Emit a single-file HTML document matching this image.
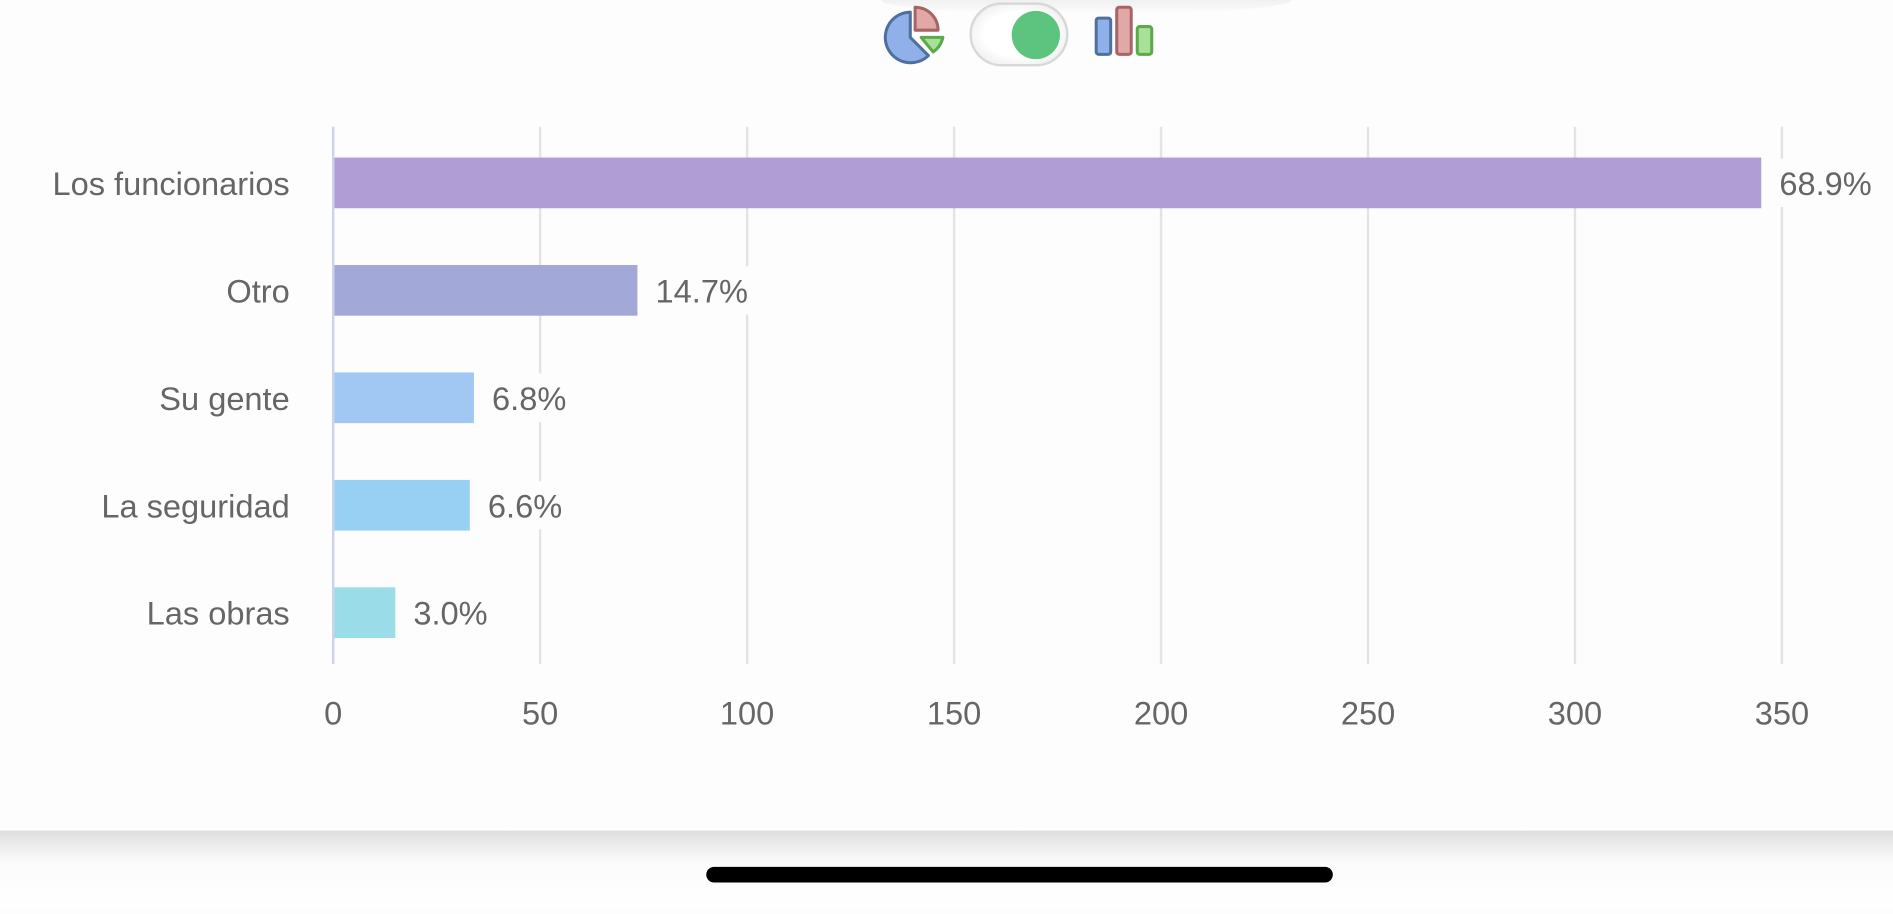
<!DOCTYPE html>
<html><head><meta charset="utf-8">
<style>
html,body{margin:0;padding:0;background:#fdfdfd;overflow:hidden;}
#wrap{position:absolute;left:0;top:0;width:1568px;height:752px;transform:scale(1.20727);transform-origin:0 0;background:#fdfdfd;font-family:"Liberation Sans",sans-serif;}
svg text{font-family:"Liberation Sans",sans-serif;}
</style></head>
<body>
<div id="wrap">
<svg id="svg" width="1568" height="752" xmlns="http://www.w3.org/2000/svg">
  <defs>
    <linearGradient id="topsh" x1="0" y1="0" x2="0" y2="1">
      <stop offset="0" stop-color="#000" stop-opacity="0.10"/>
      <stop offset="1" stop-color="#000" stop-opacity="0"/>
    </linearGradient>
    <linearGradient id="botsh" x1="0" y1="0" x2="0" y2="1">
      <stop offset="0" stop-color="#dedede"/>
      <stop offset="0.4" stop-color="#fbfbfb"/>
      <stop offset="1" stop-color="#ffffff"/>
    </linearGradient>
    <radialGradient id="tog" cx="0.5" cy="0.5" r="0.6">
      <stop offset="0.6" stop-color="#ffffff"/>
      <stop offset="1" stop-color="#ececec"/>
    </radialGradient>
  </defs>
  <ellipse cx="900" cy="0" rx="170" ry="12" fill="url(#topsh)"/>
  <g>
    <path d="M754,31 L754,10 A21,21 0 1 0 769,46 Z" fill="#8fb0e8" stroke="#4f6f9c" stroke-width="2.5" stroke-linejoin="round"/>
    <path d="M758,25 L758,6 A19,19 0 0 1 777,25 Z" fill="#e0a8a6" stroke="#a86464" stroke-width="2.5" stroke-linejoin="round"/>
    <path d="M763,31 L781,31 A20,20 0 0 1 773,43 Z" fill="#a8e09a" stroke="#5aaa48" stroke-width="2.5" stroke-linejoin="round"/>
  </g>
  <g>
    <rect x="804" y="3" width="80" height="51" rx="25.5" fill="url(#tog)" stroke="#d8d8d8" stroke-width="2"/>
    <circle cx="858" cy="29" r="20" fill="#5cc47e"/>
  </g>
  <g>
    <rect x="908" y="15" width="12" height="30" rx="2" fill="#8fb0e8" stroke="#4f6f9c" stroke-width="2.5"/>
    <rect x="925" y="6" width="12" height="39" rx="2" fill="#e0a8a6" stroke="#a86464" stroke-width="2.5"/>
    <rect x="942" y="22" width="12" height="23" rx="2" fill="#a8e09a" stroke="#5aaa48" stroke-width="2.5"/>
  </g>
  <g id="grid"></g>
  <g id="bars"></g>
  <g id="ylab"></g>
  <g id="xlab"></g>
  <g id="vals"></g>
  <rect x="0" y="688" width="1568" height="64" fill="url(#botsh)"/>
  <rect x="585" y="718" width="519" height="13" rx="6.5" fill="#000"/>
</svg>
</div>
<script>
const categories = ["Los funcionarios","Otro","Su gente","La seguridad","Las obras"];
const values = [345, 73.5, 34, 33, 15];
const valueLabels = ["68.9%","14.7%","6.8%","6.6%","3.0%"];
const ticks = [0,50,100,150,200,250,300,350];
const colors = ["#b09dd6","#a2a8d7","#a0c8f3","#98d0f3","#9adce8"];

const NS="http://www.w3.org/2000/svg";
const x0=276, x1=1476, xMax=350, topY=105, bottomY=550;
const xs=v=>x0+(v/xMax)*(x1-x0);
const band=(bottomY-topY)/categories.length;
const yc=i=>topY+2+band*(i+0.5);
const barH=42;
function mk(tag,attrs,parent){const e=document.createElementNS(NS,tag);for(const k in attrs)e.setAttribute(k,attrs[k]);document.getElementById(parent).appendChild(e);return e;}

ticks.forEach((t,i)=>{
  const g=mk("line",{x1:xs(t),x2:xs(t),y1:topY,y2:bottomY,stroke:t===0?"#ccd3e8":"#e3e3e3","stroke-width":2},"grid");
  
  
  const l=mk("text",{x:xs(t),y:600,"text-anchor":"middle","font-size":27,fill:"#666"},"xlab");
  l.textContent=t;
  
  
});
categories.forEach((c,i)=>{
  const y=yc(i);
  const b=mk("rect",{x:x0+1,y:y-barH/2,width:xs(values[i])-x0-1,height:barH,fill:colors[i]},"bars");
  
  
  const l=mk("text",{x:240,y:y+10,"text-anchor":"end","font-size":27,fill:"#666"},"ylab");
  l.textContent=c;
  
  
  const vx=xs(values[i])+15;
  const bg=mk("rect",{x:vx-3,y:y-20,width:valueLabels[i].length*15+6,height:40,fill:"#fdfdfd"},"vals");
  
  
  const v=mk("text",{x:vx,y:y+10,"font-size":27,fill:"#666"},"vals");
  v.textContent=valueLabels[i];
  
  
});
</script>
</body></html>
